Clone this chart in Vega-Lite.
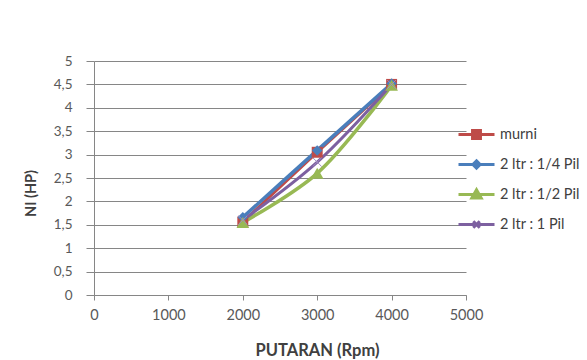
{
  "$schema": "https://vega.github.io/schema/vega-lite/v6.json",
  "width": 372,
  "height": 234,
  "autosize": "none",
  "padding": {"left": 94, "top": 61, "right": 121, "bottom": 65},
  "background": "white",
  "config": {
    "font": "Lato",
    "view": {"stroke": null},
    "axis": {"labelFont": "Lato", "titleFont": "Lato"}
  },
  "data": {
    "values": [
      {"series": "murni", "rpm": 2000, "hp": 1.56},
      {"series": "murni", "rpm": 3000, "hp": 3.05},
      {"series": "murni", "rpm": 4000, "hp": 4.5},
      {"series": "2 ltr : 1/4 Pil", "rpm": 2000, "hp": 1.66},
      {"series": "2 ltr : 1/4 Pil", "rpm": 3000, "hp": 3.09},
      {"series": "2 ltr : 1/4 Pil", "rpm": 4000, "hp": 4.52},
      {"series": "2 ltr : 1/2 Pil", "rpm": 2000, "hp": 1.55},
      {"series": "2 ltr : 1/2 Pil", "rpm": 3000, "hp": 2.6},
      {"series": "2 ltr : 1/2 Pil", "rpm": 4000, "hp": 4.48},
      {"series": "2 ltr : 1 Pil", "rpm": 2000, "hp": 1.6},
      {"series": "2 ltr : 1 Pil", "rpm": 3000, "hp": 2.84},
      {"series": "2 ltr : 1 Pil", "rpm": 4000, "hp": 4.5}
    ]
  },
  "encoding": {
    "x": {
      "field": "rpm", "type": "quantitative",
      "scale": {"domain": [0, 5000], "nice": false},
      "axis": {
        "values": [0, 1000, 2000, 3000, 4000, 5000],
        "format": "d",
        "grid": false,
        "domainColor": "#868686", "tickColor": "#868686", "tickSize": 5,
        "labelColor": "#595959", "labelFontSize": 14.5, "labelPadding": 8,
        "labelFlush": false,
        "title": "PUTARAN (Rpm)", "titleFontSize": 16.5, "titleFontWeight": "bold",
        "titleColor": "#404040", "titleX": 223, "titleY": 47
      }
    },
    "y": {
      "field": "hp", "type": "quantitative",
      "scale": {"domain": [0, 5], "nice": false},
      "axis": {
        "values": [0, 0.5, 1, 1.5, 2, 2.5, 3, 3.5, 4, 4.5, 5],
        "format": "~g",
        "labelExpr": "replace(datum.label, '.', ',')",
        "grid": true, "gridColor": "#868686", "gridWidth": 1,
        "domainColor": "#868686", "tickColor": "#868686", "tickSize": 8,
        "labelColor": "#595959", "labelFontSize": 13.5, "labelPadding": 14,
        "title": "NI (HP)", "titleFontSize": 14.5, "titleFontWeight": "bold",
        "titleColor": "#404040", "titleX": -56, "titleY": 132, "titleAngle": -90
      }
    }
  },
  "layer": [
    {
      "transform": [{"filter": "datum.series == 'murni'"}],
      "mark": {"type": "line", "interpolate": "catmull-rom", "strokeWidth": 3, "color": "#BE4B48"}
    },
    {
      "transform": [{"filter": "datum.series == '2 ltr : 1/4 Pil'"}],
      "mark": {"type": "line", "interpolate": "catmull-rom", "strokeWidth": 3.5, "color": "#4A7EBB"}
    },
    {
      "transform": [{"filter": "datum.series == '2 ltr : 1/2 Pil'"}],
      "mark": {"type": "line", "interpolate": "catmull-rom", "strokeWidth": 3.5, "color": "#98B954"}
    },
    {
      "transform": [{"filter": "datum.series == '2 ltr : 1 Pil'"}],
      "mark": {"type": "line", "interpolate": "catmull-rom", "strokeWidth": 3, "color": "#7D60A0"}
    },
    {
      "transform": [{"filter": "datum.series == 'murni'"}],
      "mark": {"type": "point", "shape": "square", "filled": true, "size": 120, "opacity": 1, "color": "#BE4B48"}
    },
    {
      "transform": [{"filter": "datum.series == '2 ltr : 1/4 Pil'"}],
      "mark": {"type": "point", "shape": "diamond", "filled": true, "size": 110, "opacity": 1, "color": "#4A7EBB"}
    },
    {
      "transform": [{"filter": "datum.series == '2 ltr : 1/2 Pil'"}],
      "mark": {"type": "point", "shape": "triangle-up", "filled": true, "size": 160, "opacity": 1, "color": "#98B954"}
    },
    {
      "transform": [{"filter": "datum.series == '2 ltr : 1 Pil'"}],
      "mark": {"type": "point", "shape": "M-1,-1L1,1M-1,1L1,-1", "filled": false, "size": 80, "strokeWidth": 1, "opacity": 1, "color": "#A08CC0"}
    },
    {
      "mark": {"type": "point", "filled": true, "opacity": 0, "size": 1296, "strokeWidth": 3},
      "encoding": {
        "shape": {
          "field": "series", "type": "nominal",
          "scale": {
            "domain": ["murni", "2 ltr : 1/4 Pil", "2 ltr : 1/2 Pil", "2 ltr : 1 Pil"],
            "range": [
              "M-1,0H1M-0.22,-0.22H0.22V0.22H-0.22Z",
              "M-1,0H1M0,-0.2L0.2,0L0,0.2L-0.2,0Z",
              "M-1,0H1M0,-0.26L0.26,0.2H-0.26Z",
              "M-1,0H1M-0.18,-0.18L0.18,0.18M-0.18,0.18L0.18,-0.18"
            ]
          },
          "legend": {
            "title": null, "orient": "none", "legendX": 363, "legendY": 54,
            "padding": 0, "rowPadding": -6, "labelOffset": 4,
            "symbolOpacity": 1, "symbolStrokeWidth": 3, "symbolSize": 1296,
            "labelFont": "Lato", "labelFontSize": 14.5, "labelColor": "#404040",
            "encode": {"symbols": {"update": {"stroke": {"scale": "color", "field": "value"}, "strokeWidth": {"value": 3}, "opacity": {"value": 1}}}}
          }
        },
        "color": {
          "field": "series", "type": "nominal",
          "scale": {
            "domain": ["murni", "2 ltr : 1/4 Pil", "2 ltr : 1/2 Pil", "2 ltr : 1 Pil"],
            "range": ["#BE4B48", "#4A7EBB", "#98B954", "#7D60A0"]
          },
          "legend": {
            "title": null, "orient": "none", "legendX": 363, "legendY": 54,
            "padding": 0, "rowPadding": -6, "labelOffset": 4,
            "symbolOpacity": 1, "symbolStrokeWidth": 3, "symbolSize": 1296,
            "labelFont": "Lato", "labelFontSize": 14.5, "labelColor": "#404040",
            "encode": {"symbols": {"update": {"stroke": {"scale": "color", "field": "value"}, "strokeWidth": {"value": 3}, "opacity": {"value": 1}}}}
          }
        }
      }
    }
  ]
}
